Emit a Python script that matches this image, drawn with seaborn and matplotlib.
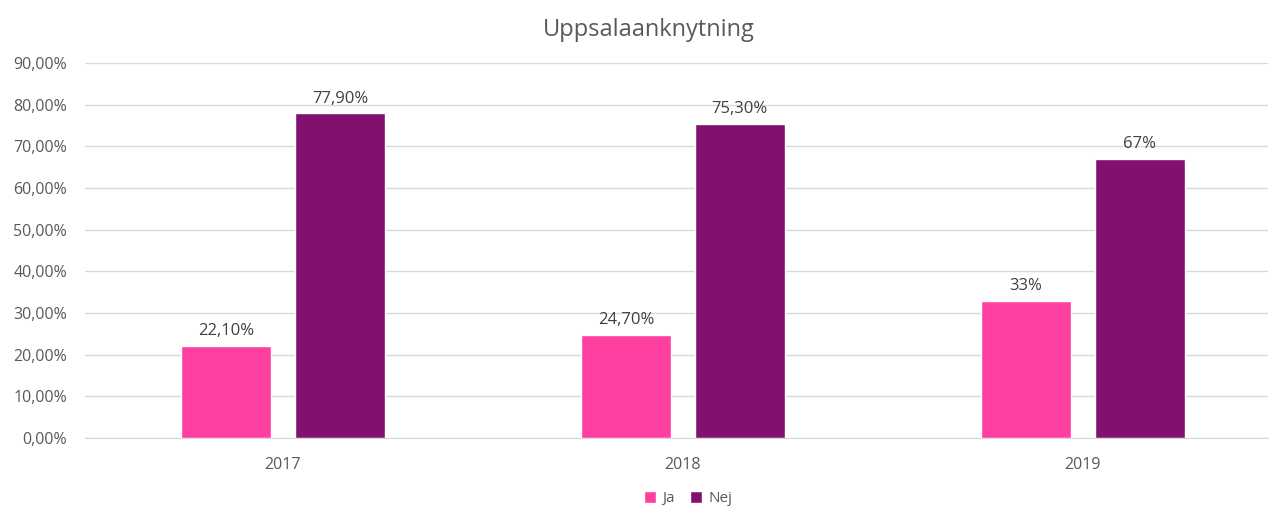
import matplotlib
matplotlib.use("Agg")
import matplotlib.pyplot as plt
import seaborn as sns
import pandas as pd
from matplotlib.ticker import FuncFormatter, MultipleLocator

years = ["2017", "2018", "2019"]
ja_values = [22.1, 24.7, 33.0]
nej_values = [77.9, 75.3, 67.0]
ja_labels = ["22,10%", "24,70%", "33%"]
nej_labels = ["77,90%", "75,30%", "67%"]
series_names = ["Ja", "Nej"]
colors = ["#FF3FA0", "#82106E"]

df = pd.DataFrame({
    "year": years * 2,
    "value": ja_values + nej_values,
    "serie": [series_names[0]] * 3 + [series_names[1]] * 3,
})

sns.set_style("white")
plt.rcParams["font.family"] = ["Open Sans", "DejaVu Sans"]

fig = plt.figure(figsize=(12.73, 5.08), dpi=100)
ax = fig.add_axes([0.0668, 0.1378, 0.929, 0.738])

sns.barplot(data=df, x="year", y="value", hue="serie", palette=colors,
            width=0.57, gap=0.21, ax=ax, saturation=1, legend=True)

# etiketter ovanför staplarna
for cont, labels in zip(ax.containers, [ja_labels, nej_labels]):
    ax.bar_label(cont, labels=labels, padding=5, fontsize=12, color="#404040")

ax.set_ylim(0, 90)
ax.yaxis.set_major_locator(MultipleLocator(10))
ax.yaxis.set_major_formatter(FuncFormatter(lambda v, p: f"{v:.2f}".replace(".", ",") + "%"))
ax.set_xlim(-0.495, 2.4625)
ax.grid(axis="y", color="#d9d9d9", lw=1)
ax.set_axisbelow(True)
for s in ["top", "right", "left"]:
    ax.spines[s].set_visible(False)
ax.spines["bottom"].set_color("#d9d9d9")
ax.tick_params(axis="both", length=0, labelsize=11.5, colors="#595959")
ax.tick_params(axis="y", pad=13)
ax.tick_params(axis="x", pad=14)
ax.set_xlabel("")
ax.set_ylabel("")

fig.suptitle("Uppsalaanknytning", x=0.51, y=0.965, fontsize=17, color="#595959")

ax.legend(loc="upper center", bbox_to_anchor=(0.51, -0.105), ncol=2, frameon=False,
          fontsize=11, handlelength=0.8, handleheight=0.8, handletextpad=0.4,
          columnspacing=1.0, labelcolor="#595959")

fig.savefig("out.png", dpi=100)
